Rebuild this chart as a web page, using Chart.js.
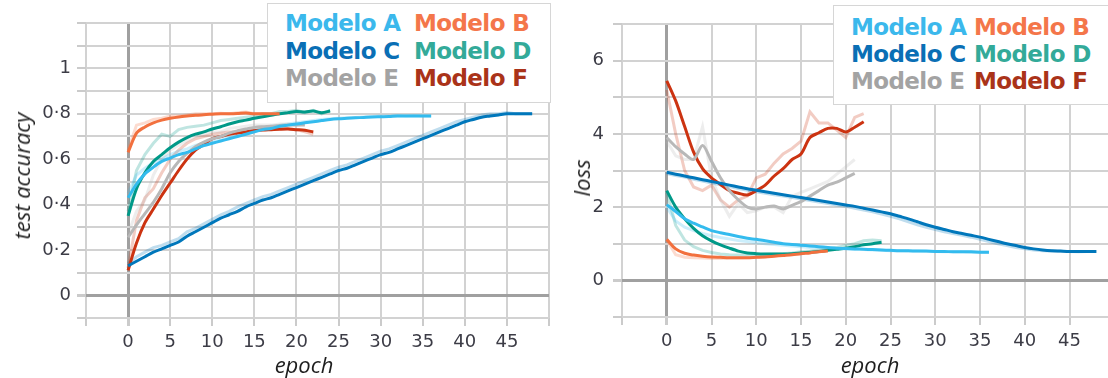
<!DOCTYPE html>
<html><head><meta charset="utf-8">
<script src="https://cdn.jsdelivr.net/npm/chart.js@4/dist/chart.umd.min.js"></script>
<style>
html,body{margin:0;padding:0;background:#fff;width:1108px;height:378px;overflow:hidden;position:relative;}
canvas{position:absolute;top:0;}
#cL{left:0;}
#cR{left:555px;}
.lbox{position:absolute;background:#fff;border:1px solid #d6d6d6;}
.li{position:absolute;white-space:nowrap;line-height:1;font-family:"DejaVu Sans";font-weight:bold;font-size:23px;letter-spacing:-0.6px;}
.ttl{position:absolute;white-space:nowrap;line-height:1;font-family:"Open Sans";font-style:italic;font-size:22px;color:#1e1e1e;transform:translate(-50%,-50%);}
.rot{transform:translate(-50%,-50%) rotate(-90deg);}
</style></head>
<body>
<canvas id="cL" width="555" height="378"></canvas>
<canvas id="cR" width="553" height="378"></canvas>

<div class="lbox" style="left:267px;top:3px;width:282px;height:98px;"></div>
<div class="lbox" style="left:833px;top:5px;width:290px;height:98px;"></div>
<div id="legL"></div>
<div id="legR"></div>

<div class="ttl rot" style="left:21px;top:176px;">test accuracy</div>
<div class="ttl" style="left:304px;top:364px;">epoch</div>
<div class="ttl rot" style="left:581px;top:178px;">loss</div>
<div class="ttl" style="left:870px;top:364px;">epoch</div>

<script>
// ---------- data ----------
const modelNames = ['Modelo A','Modelo B','Modelo C','Modelo D','Modelo E','Modelo F'];
const lineColors = ['#33bbee','#f2703e','#0077bb','#009988','#b8b8b8','#cc3311'];
const legendColors = ['#3bb8ec','#f4764a','#0a6fb5','#33aa99','#a3a3a3','#aa3319'];

// test accuracy (smoothed)
const accA = [0.43,0.49,0.535,0.565,0.59,0.605,0.62,0.63,0.645,0.66,0.67,0.68,0.69,0.70,0.71,0.72,0.73,0.735,0.745,0.75,0.755,0.76,0.765,0.77,0.775,0.778,0.78,0.782,0.784,0.786,0.787,0.788,0.79,0.79,0.79,0.79,0.79];
const accB = [0.63,0.715,0.742,0.76,0.772,0.78,0.786,0.79,0.793,0.796,0.798,0.80,0.80,0.801,0.803,0.80,0.80,0.80,0.80];
const accC = [0.13,0.15,0.17,0.19,0.205,0.22,0.235,0.26,0.28,0.30,0.32,0.34,0.355,0.37,0.39,0.405,0.42,0.43,0.445,0.46,0.475,0.49,0.505,0.52,0.535,0.55,0.56,0.575,0.59,0.605,0.62,0.63,0.645,0.66,0.675,0.69,0.705,0.72,0.735,0.75,0.765,0.775,0.785,0.79,0.795,0.80,0.80,0.80,0.80];
const accD = [0.35,0.47,0.54,0.59,0.62,0.65,0.675,0.695,0.71,0.72,0.733,0.743,0.755,0.765,0.772,0.78,0.787,0.793,0.80,0.805,0.81,0.808,0.812,0.805,0.812];
const accE = [0.255,0.31,0.36,0.41,0.47,0.54,0.59,0.625,0.655,0.675,0.69,0.70,0.715,0.725,0.733,0.74,0.743,0.745,0.748,0.75,0.75,0.75];
const accF = [0.11,0.23,0.32,0.38,0.44,0.495,0.55,0.60,0.64,0.665,0.69,0.70,0.71,0.715,0.72,0.725,0.728,0.73,0.732,0.733,0.73,0.727,0.72];
// test accuracy (raw, faded)
const accRawA = [0.45,0.53,0.56,0.585,0.60,0.62,0.635,0.645,0.66,0.67,0.68,0.69,0.70,0.71,0.72,0.73,0.74,0.745,0.75,0.755,0.76,0.765,0.77,0.775,0.778,0.78,0.782,0.784,0.786,0.788,0.79,0.79,0.792,0.79,0.792,0.79,0.79];
const accRawB = [0.64,0.75,0.76,0.775,0.78,0.79,0.79,0.795,0.80,0.80,0.80,0.802,0.80,0.805,0.808,0.80,0.80,0.797,0.80];
const accRawC = [0.14,0.17,0.19,0.21,0.22,0.235,0.25,0.28,0.295,0.315,0.335,0.355,0.37,0.39,0.405,0.42,0.435,0.445,0.46,0.475,0.49,0.505,0.52,0.535,0.55,0.565,0.575,0.59,0.605,0.62,0.635,0.645,0.66,0.675,0.69,0.705,0.72,0.735,0.75,0.765,0.775,0.785,0.795,0.80,0.80,0.805,0.80,0.80,0.80];
const accRawD = [0.37,0.55,0.62,0.67,0.71,0.70,0.73,0.74,0.745,0.75,0.76,0.77,0.775,0.78,0.785,0.79,0.80,0.80,0.81,0.81,0.815,0.805,0.815,0.80,0.815];
const accRawE = [0.27,0.37,0.42,0.53,0.60,0.64,0.66,0.68,0.70,0.71,0.72,0.72,0.735,0.74,0.745,0.75,0.75,0.75,0.755,0.755,0.75,0.755];
const accRawF = [0.12,0.33,0.43,0.47,0.54,0.60,0.64,0.67,0.69,0.70,0.71,0.715,0.72,0.72,0.73,0.725,0.73,0.735,0.735,0.735,0.73,0.72,0.71];

// loss (smoothed)
const lossA = [2.07,1.88,1.68,1.56,1.46,1.36,1.30,1.25,1.20,1.15,1.12,1.08,1.04,1.00,0.98,0.96,0.94,0.92,0.90,0.88,0.87,0.86,0.85,0.84,0.83,0.82,0.81,0.81,0.80,0.80,0.79,0.79,0.78,0.78,0.78,0.77,0.77];
const lossB = [1.12,0.86,0.74,0.69,0.66,0.64,0.63,0.62,0.62,0.62,0.63,0.64,0.66,0.68,0.70,0.73,0.75,0.78,0.80];
const lossC = [2.95,2.90,2.85,2.80,2.75,2.70,2.65,2.60,2.55,2.50,2.46,2.42,2.38,2.34,2.30,2.26,2.22,2.18,2.14,2.10,2.06,2.02,1.97,1.92,1.87,1.82,1.75,1.68,1.60,1.52,1.45,1.39,1.33,1.28,1.23,1.18,1.12,1.06,1.00,0.95,0.90,0.86,0.83,0.81,0.80,0.79,0.79,0.79,0.79];
const lossD = [2.45,2.00,1.68,1.42,1.22,1.08,0.97,0.88,0.80,0.75,0.73,0.72,0.72,0.72,0.73,0.75,0.77,0.79,0.82,0.85,0.88,0.92,0.97,1.00,1.04];
const lossE = [3.90,3.65,3.45,3.30,3.68,3.25,2.80,2.45,2.20,2.00,1.95,2.00,2.03,1.95,2.05,2.15,2.30,2.45,2.60,2.68,2.80,2.92];
const lossF = [5.45,4.90,4.20,3.50,3.05,2.80,2.62,2.45,2.38,2.33,2.45,2.60,2.85,3.05,3.30,3.45,3.90,4.03,4.15,4.15,4.05,4.18,4.33];
// loss (raw, faded)
const lossRawA = [2.00,1.62,1.45,1.36,1.28,1.22,1.17,1.13,1.09,1.06,1.03,1.00,0.98,0.96,0.94,0.92,0.90,0.89,0.88,0.87,0.86,0.85,0.84,0.83,0.82,0.81,0.81,0.80,0.80,0.79,0.79,0.78,0.78,0.78,0.77,0.77,0.77];
const lossRawB = [1.10,0.70,0.63,0.62,0.61,0.60,0.60,0.61,0.61,0.62,0.63,0.65,0.67,0.69,0.72,0.75,0.77,0.80,0.82];
const lossRawC = [2.92,2.86,2.82,2.76,2.71,2.66,2.61,2.56,2.51,2.46,2.42,2.38,2.34,2.30,2.26,2.22,2.18,2.14,2.10,2.06,2.02,1.97,1.92,1.87,1.81,1.75,1.68,1.60,1.52,1.45,1.39,1.33,1.28,1.23,1.18,1.12,1.06,1.00,0.95,0.90,0.86,0.83,0.81,0.80,0.79,0.79,0.78,0.79,0.79];
const lossRawD = [2.40,1.50,1.10,0.92,0.82,0.76,0.72,0.70,0.69,0.69,0.70,0.71,0.72,0.73,0.75,0.78,0.80,0.83,0.86,0.90,0.95,1.00,1.08,1.10,1.08];
const lossRawE = [3.80,3.40,3.30,3.30,4.20,2.80,2.20,1.75,2.10,1.85,1.90,2.00,2.00,1.85,2.30,2.40,2.50,2.60,2.70,2.90,3.10,3.30];
const lossRawF = [5.20,4.00,3.00,2.55,2.45,2.60,2.20,2.00,2.20,2.30,2.80,2.90,3.20,3.45,3.60,3.80,4.60,4.30,4.30,4.10,3.90,4.45,4.55];

// axis ticks
const epochTicksL = [-5,0,5,10,15,20,25,30,35,40,45,50];
const epochTicksR = [-5,0,5,10,15,20,25,30,35,40,45];
const epochLabels = [0,5,10,15,20,25,30,35,40,45];
const accGrid = [-0.1,0,0.1,0.2,0.3,0.4,0.5,0.6,0.7,0.8,0.9,1.0,1.1,1.2];
const accLabelMap = {'0':'0','0.2':'0·2','0.4':'0·4','0.6':'0·6','0.8':'0·8','1':'1'};
const lossGrid = [-1,0,1,2,3,4,5,6,7];
const lossLabels = [0,2,4,6];

// ---------- legend (HTML text) ----------
function buildLegend(id, colX, rowY) {
  const el = document.getElementById(id);
  modelNames.forEach((n, i) => {
    const d = document.createElement('div');
    d.className = 'li';
    d.textContent = n;
    d.style.color = legendColors[i];
    d.style.left = colX[i % 2] + 'px';
    d.style.top = rowY[Math.floor(i / 2)] + 'px';
    el.appendChild(d);
  });
}
buildLegend('legL', [285, 414], [12, 40, 67]);
buildLegend('legR', [851, 974], [16, 43, 70]);

// ---------- charts ----------
function hexA(hex, a) {
  const n = parseInt(hex.slice(1), 16);
  return `rgba(${(n>>16)&255},${(n>>8)&255},${n&255},${a})`;
}
function toPts(arr) { return arr.map((v, i) => ({x: i, y: v})); }
function datasets(smooth, raw) {
  const ds = [];
  smooth.forEach((s, i) => ds.push({label: modelNames[i], data: toPts(s), borderColor: lineColors[i],
    borderWidth: 3, pointRadius: 0, tension: 0.3, fill: false, order: 0}));
  raw.forEach((s, i) => ds.push({label: modelNames[i] + ' raw', data: toPts(s), borderColor: hexA(lineColors[i], 0.25),
    borderWidth: 3, pointRadius: 0, tension: 0, fill: false, order: 1}));
  return ds;
}
const tickFont = {family: 'DejaVu Sans', size: 18};
const tickColor = '#3c3c46';
const gridCol = c => (c.tick && Math.abs(c.tick.value) < 1e-9) ? '#a0a0a0' : '#d2d2d2';
const gridW = c => (c.tick && Math.abs(c.tick.value) < 1e-9) ? 3 : 2;

function makeChart(id, cfg) {
  return new Chart(document.getElementById(id), {
    type: 'line',
    data: {datasets: datasets(cfg.smooth, cfg.raw)},
    options: {
      responsive: false, animation: false, devicePixelRatio: 1,
      layout: {padding: cfg.padding},
      plugins: {legend: {display: false}, tooltip: {enabled: false}},
      scales: {
        x: {
          type: 'linear', min: cfg.xmin, max: cfg.xmax,
          afterBuildTicks: s => { s.ticks = cfg.xTicks.map(v => ({value: v})); },
          afterFit: s => { s.height = cfg.xHeight; },
          ticks: {font: tickFont, color: tickColor, padding: 6, maxRotation: 0, autoSkip: false,
            callback: v => epochLabels.includes(v) ? String(v) : ''},
          grid: {color: gridCol, lineWidth: gridW, tickLength: 8, tickColor: '#cbcbcb'},
          border: {display: false}
        },
        y: {
          type: 'linear', min: cfg.ymin, max: cfg.ymax,
          afterBuildTicks: s => { s.ticks = cfg.yTicks.map(v => ({value: v})); },
          afterFit: s => { s.width = cfg.yWidth; },
          ticks: {font: tickFont, color: tickColor, padding: cfg.yPad, autoSkip: false, callback: cfg.yLabel},
          grid: {color: gridCol, lineWidth: gridW, tickLength: 9, tickColor: '#cbcbcb'},
          border: {display: false}
        }
      }
    }
  });
}

makeChart('cL', {
  smooth: [accA, accB, accC, accD, accE, accF],
  raw: [accRawA, accRawB, accRawC, accRawD, accRawE, accRawF],
  padding: {top: 23, right: 6, bottom: 0, left: 0},
  xmin: -5, xmax: 50, xTicks: epochTicksL, xHeight: 60,
  ymin: -0.1, ymax: 1.2, yTicks: accGrid, yWidth: 86, yPad: 6,
  yLabel: v => { const k = String(Math.round(v * 10) / 10); return accLabelMap[k] !== undefined ? accLabelMap[k] : ''; }
});
makeChart('cR', {
  smooth: [lossA, lossB, lossC, lossD, lossE, lossF],
  raw: [lossRawA, lossRawB, lossRawC, lossRawD, lossRawE, lossRawF],
  padding: {top: 24, right: 0, bottom: 0, left: 0},
  xmin: -5, xmax: 49.3, xTicks: epochTicksR, xHeight: 61,
  ymin: -1, ymax: 7, yTicks: lossGrid, yWidth: 67, yPad: 9,
  yLabel: v => lossLabels.includes(v) ? String(v) : ''
});
</script>
</body></html>
